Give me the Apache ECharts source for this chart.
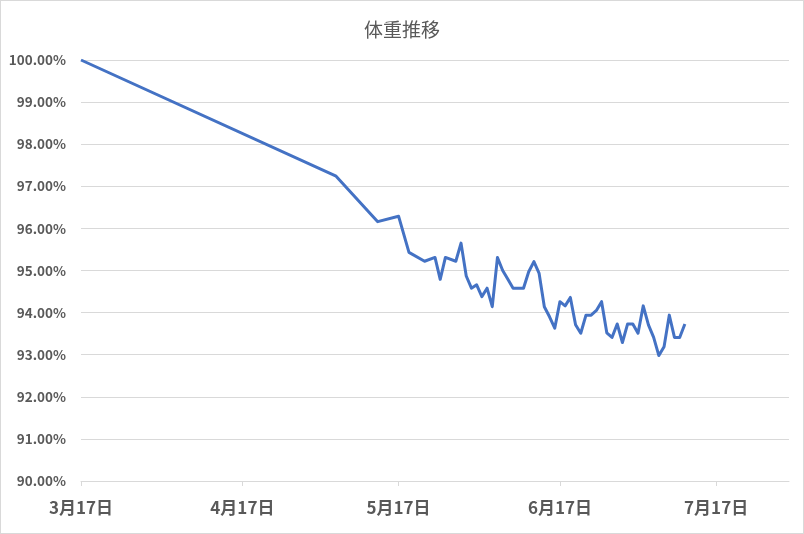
<!DOCTYPE html>
<html>
<head>
<meta charset="utf-8">
<script src="https://cdn.jsdelivr.net/npm/echarts@6/dist/echarts.min.js"></script>
<style>
html,body{margin:0;padding:0;background:#fff;}
#c{width:804px;height:534px;box-sizing:border-box;border:1px solid #d9d9d9;}
</style>
</head>
<body>
<div id="c"></div>
<script>
var YEAR = 2023;
var dates = ['03-17','05-05','05-13','05-17','05-19','05-22','05-24','05-25','05-26','05-28',
  '05-29','05-30','05-31','06-01','06-02','06-03','06-04','06-05','06-06','06-07','06-08',
  '06-10','06-11','06-12','06-13','06-14','06-15','06-16','06-17','06-18','06-19','06-20',
  '06-21','06-22','06-23','06-24','06-25','06-26','06-27','06-28','06-29','06-30',
  '07-01','07-02','07-03','07-04','07-05','07-06','07-07','07-08','07-09','07-10','07-11'];
var weightPct = [100.00,97.24,96.16,96.29,95.43,95.22,95.31,94.79,95.31,95.22,
  95.65,94.87,94.58,94.66,94.38,94.58,94.14,95.31,95.00,94.79,94.58,
  94.58,94.97,95.21,94.93,94.14,93.90,93.63,94.26,94.16,94.36,93.71,
  93.51,93.94,93.94,94.05,94.26,93.52,93.41,93.73,93.29,93.73,
  93.73,93.51,94.16,93.71,93.41,92.98,93.19,93.94,93.41,93.41,93.73];
var tickDates = ['03-17','04-17','05-17','06-17','07-17'];
var axisStart = '03-17', axisEnd = '07-31';

function ts(md){ var p = md.split('-'); return new Date(YEAR, +p[0]-1, +p[1]).getTime(); }
var seriesData = dates.map(function(d,i){ return [ts(d), weightPct[i]]; });
var tickVals = tickDates.map(ts);

var chart = echarts.init(document.getElementById('c'));
chart.setOption({
  animation:false,
  title:{text:'体重推移',left:'center',top:14,
    textStyle:{fontFamily:'Noto Sans CJK JP',fontSize:19,fontWeight:'normal',color:'#595959'}},
  grid:{left:80,right:14,top:59,bottom:52,containLabel:false},
  xAxis:{type:'value',min:ts(axisStart),max:ts(axisEnd),
    axisLine:{lineStyle:{color:'#d9d9d9',width:1}},
    axisTick:{show:true,customValues:tickVals,length:5,lineStyle:{color:'#d9d9d9'}},
    axisLabel:{customValues:tickVals,margin:18,fontFamily:'Noto Sans CJK JP',fontSize:17,fontWeight:'bold',color:'#595959',
      formatter:function(v){var d=new Date(v);return (d.getMonth()+1)+'月'+d.getDate()+'日';}},
    splitLine:{show:false}},
  yAxis:{type:'value',min:90,max:100,interval:1,
    axisLine:{show:false},axisTick:{show:false},
    axisLabel:{margin:15,fontFamily:'Noto Sans CJK JP',fontSize:13.5,fontWeight:'bold',color:'#595959',
      formatter:function(v){return v.toFixed(2)+'%';}},
    splitLine:{lineStyle:{color:'#d9d9d9',width:1}}},
  series:[{type:'line',data:seriesData,showSymbol:false,symbol:'none',
    lineStyle:{color:'#4472C4',width:3,join:'round'},itemStyle:{color:'#4472C4'}}]
});
</script>
</body>
</html>
